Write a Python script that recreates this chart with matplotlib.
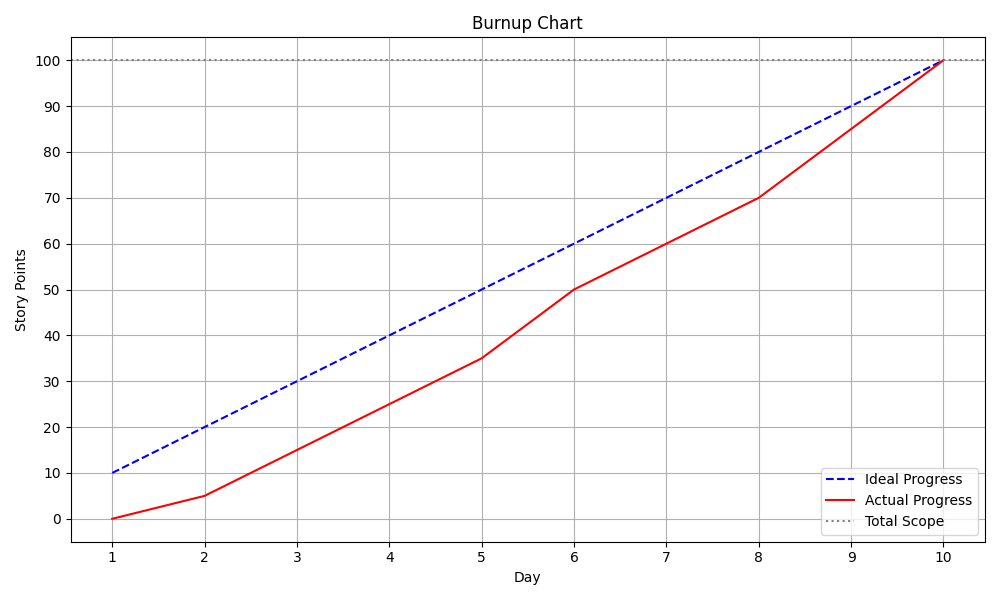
import numpy as np
import matplotlib
matplotlib.use("Agg")
import matplotlib.pyplot as plt

# Data
days = [1, 2, 3, 4, 5, 6, 7, 8, 9, 10]
ideal_progress = [10, 20, 30, 40, 50, 60, 70, 80, 90, 100]
actual_progress = [0, 5, 15, 25, 35, 50, 60, 70, 85, 100]
total_scope = 100

fig, ax = plt.subplots(figsize=(10, 6), dpi=100)

ax.plot(days, ideal_progress, 'b--', label='Ideal Progress')
ax.plot(days, actual_progress, 'r-', label='Actual Progress')
ax.axhline(total_scope, color='gray', linestyle=':', label='Total Scope')

ax.set_title('Burnup Chart')
ax.set_xlabel('Day')
ax.set_ylabel('Story Points')
ax.set_xticks(days)
ax.set_yticks(np.arange(0, 101, 10))
ax.grid(True)
ax.legend(loc='lower right')

plt.tight_layout()
plt.savefig('out.png')
